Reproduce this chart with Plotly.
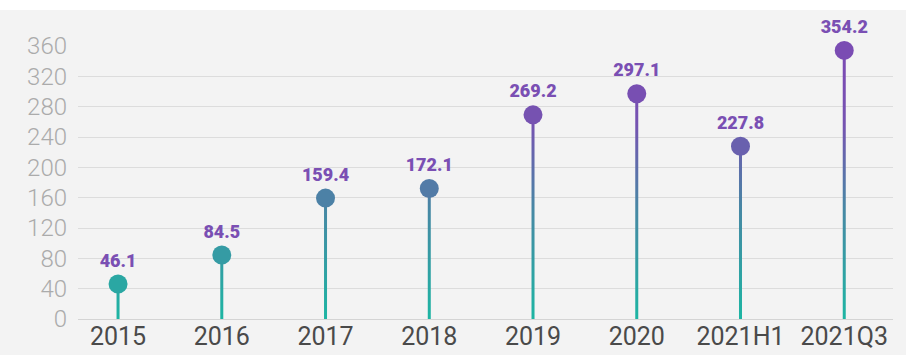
import plotly.graph_objects as go

# Data
categories = ["2015", "2016", "2017", "2018", "2019", "2020", "2021H1", "2021Q3"]
values = [46.1, 84.5, 159.4, 172.1, 269.2, 297.1, 227.8, 354.2]
y_ticks = [0, 40, 80, 120, 160, 200, 240, 280, 320, 360]

# teal at the base, blue in the middle, purple at the top
stem_scale = [[0.0, "#1db5a3"], [0.45, "#4688a4"], [0.8, "#7553b1"], [1.0, "#7a4cb3"]]
GRAD_MIN, GRAD_MAX = 0, 320
label_color = "#7a4fb3"

xs = list(range(len(categories)))
half_w = 0.0145  # half stem width in axis units

# Stems: thin rectangles filled with a vertical gradient
sx, sy = [], []
for x, v in zip(xs, values):
    sx += [x - half_w, x + half_w, x + half_w, x - half_w, x - half_w, None]
    sy += [0, 0, v, v, 0, None]

fig = go.Figure()
fig.add_trace(go.Scatter(
    x=sx, y=sy, mode="lines", fill="toself",
    line=dict(width=0),
    fillgradient=dict(type="vertical", colorscale=stem_scale,
                      start=GRAD_MIN, stop=GRAD_MAX),
    hoverinfo="skip", showlegend=False,
))

# Dots with value labels
fig.add_trace(go.Scatter(
    x=xs, y=values, mode="markers+text",
    marker=dict(size=19, color=values, colorscale=stem_scale,
                cmin=GRAD_MIN, cmax=GRAD_MAX, line=dict(width=0)),
    text=[f"{v:.1f}" for v in values],
    textposition="top center",
    textfont=dict(family="Roboto, sans-serif", size=18, color=label_color, weight=900),
    cliponaxis=False, showlegend=False,
))

bg = "#f3f3f3"
fig.update_layout(
    width=906, height=355,
    margin=dict(l=78, r=13, t=46, b=36, autoexpand=False),
    paper_bgcolor=bg, plot_bgcolor=bg,
    xaxis=dict(
        range=[-0.386, 7.47], tickmode="array", tickvals=xs, ticktext=categories,
        showgrid=False, zeroline=False, showline=False, ticks="", automargin=False,
        tickfont=dict(family="Roboto, Liberation Sans, sans-serif", size=25, color="#4a4a4a"),
    ),
    yaxis=dict(
        range=[0, 360], tickmode="array", tickvals=y_ticks, automargin=False,
        showgrid=True, gridcolor="#dcdcdc", gridwidth=1,
        zeroline=True, zerolinecolor="#d4d4d4", zerolinewidth=1,
        showline=False, ticks="", ticklabelstandoff=10,
        tickfont=dict(family="Roboto, Liberation Sans, sans-serif", size=24,
                      color="#ababab", weight=300),
    ),
    shapes=[dict(type="rect", xref="paper", yref="paper",
                 x0=-0.2, x1=1.1, y0=1 + 36 / 273, y1=1.4,
                 fillcolor="white", line=dict(width=0), layer="below")],
)

fig.write_html("out.html")
